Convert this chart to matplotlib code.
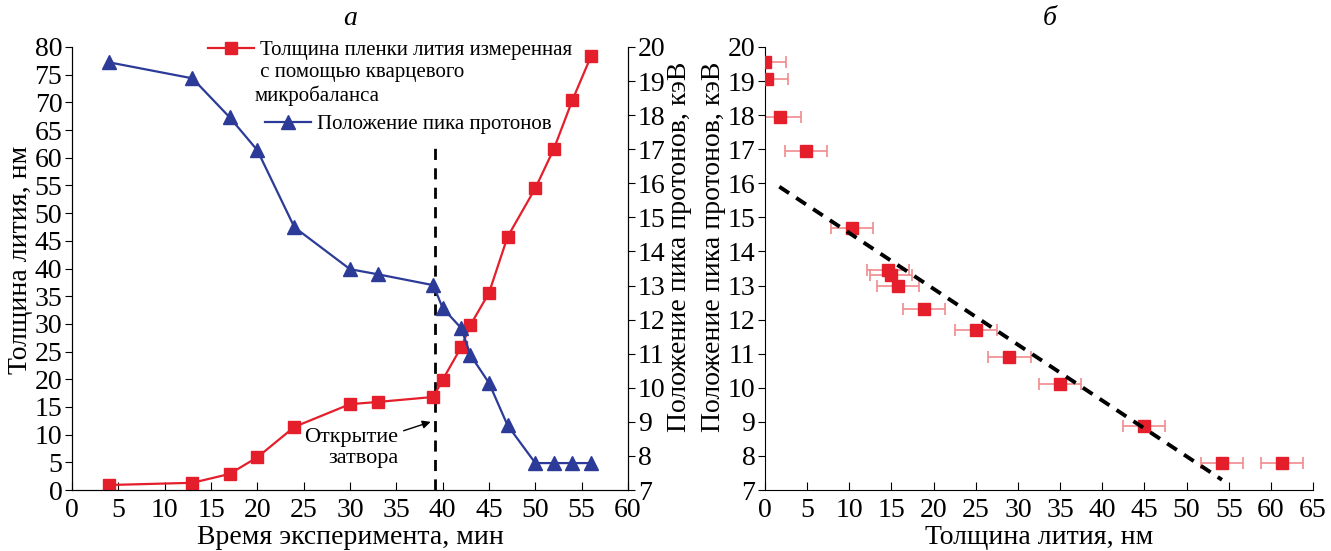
import numpy as np
import matplotlib
matplotlib.use("Agg")
import matplotlib.pyplot as plt

plt.rcParams['font.family'] = ['Liberation Serif', 'DejaVu Serif']

# --- данные, панель а ---
time_min = [4, 13, 17, 20, 24, 30, 33, 39, 40, 42, 43, 45, 47, 50, 52, 54, 56]
li_thickness = [0.9, 1.3, 2.9, 5.9, 11.4, 15.5, 15.9, 16.8, 19.9, 25.8, 29.8,
                35.6, 45.7, 54.5, 61.6, 70.4, 78.3]
peak_kev = [19.55, 19.08, 17.94, 16.97, 14.71, 13.48, 13.33, 13.01, 12.34,
            11.75, 10.96, 10.14, 8.9, 7.79, 7.79, 7.79, 7.79]
shutter_time = 39.2
shutter_top = 62.3

# --- данные, панель б ---
b_thick = [0, 0.2, 1.8, 4.9, 10.3, 14.6, 14.9, 15.8, 18.9, 25.0, 29.0, 35.0,
           45.0, 54.2, 61.3]
b_peak = [19.56, 19.06, 17.94, 16.95, 14.7, 13.45, 13.3, 13.0, 12.3, 11.7,
          10.9, 10.1, 8.88, 7.78, 7.78]
b_xerr = [2.5] * len(b_thick)
b_yerr = [0.1] * len(b_thick)
fit_x = [1.7, 54.2]
fit_y = [15.9, 7.3]

red = '#e41f2b'
blue = '#2c3b97'
pink = '#f08a8e'

fig = plt.figure(figsize=(13.31, 5.51), dpi=100)
ax1 = fig.add_axes([72 / 1331, 1 - 490 / 551, 556 / 1331, 443 / 551])
ax2 = ax1.twinx()
ax3 = fig.add_axes([765 / 1331, 1 - 490 / 551, 548 / 1331, 443 / 551])

tick_fs = 20

# панель а
l_red, = ax1.plot(time_min, li_thickness, color=red, lw=1.6, marker='s',
                  ms=8, zorder=3)
l_blue, = ax2.plot(time_min, peak_kev, color=blue, lw=1.6, marker='^',
                   ms=9.5, zorder=3)
ax1.plot([shutter_time, shutter_time], [0, shutter_top], color='black',
         lw=2, ls=(0, (4, 3)))
ax1.annotate('Открытие\nзатвора', xy=(38.7, 12.3), xytext=(35.2, 7.6),
             ha='right', va='center', multialignment='right', fontsize=16,
             arrowprops=dict(arrowstyle='-|>', color='black', lw=1,
                             shrinkA=2, shrinkB=0, mutation_scale=12))

ax1.set_xlim(0, 60)
ax1.set_ylim(0, 80)
ax2.set_ylim(7, 20)
ax1.set_xticks(np.arange(0, 61, 5))
ax1.set_yticks(np.arange(0, 81, 5))
ax2.set_yticks(np.arange(7, 21, 1))
ax1.set_xlabel('Время эксперимента, мин', fontsize=20, labelpad=1)
ax1.set_ylabel('Толщина лития, нм', fontsize=20, labelpad=1)
ax2.set_ylabel('Положение пика протонов, кэВ', fontsize=20, labelpad=1)
ax1.yaxis.label.set_y(0.52)
ax2.yaxis.label.set_y(0.55)
ax1.tick_params(axis='x', direction='in', length=6, labelsize=tick_fs, pad=6)
ax1.tick_params(axis='y', direction='out', length=5, labelsize=tick_fs, pad=2)
ax2.tick_params(axis='y', direction='out', length=5, labelsize=tick_fs, pad=2)
for a in (ax1, ax2):
    a.spines['top'].set_visible(False)
ax1.text(0.5, 1.065, 'а', transform=ax1.transAxes, ha='center', va='center',
         fontsize=20, style='italic')

leg1 = ax1.legend([l_red], ['Толщина пленки лития измеренная'],
                  loc='center left', bbox_to_anchor=(0.245, 0.993),
                  frameon=False, fontsize=15, borderpad=0, borderaxespad=0,
                  handlelength=2.2, handletextpad=0.3)
ax1.add_artist(leg1)
ax1.text(0.329, 0.915, ' с помощью кварцевого\nмикробаланса',
         transform=ax1.transAxes, ha='left', va='center', fontsize=15,
         linespacing=1.2)
ax1.legend([l_blue], ['Положение пика протонов'], loc='center left',
           bbox_to_anchor=(0.347, 0.826), frameon=False, fontsize=15,
           borderpad=0, borderaxespad=0, handlelength=2.2, handletextpad=0.3)

# панель б
ax3.errorbar(b_thick, b_peak, xerr=b_xerr, yerr=b_yerr, fmt='none',
             ecolor=pink, elinewidth=1.2, capsize=4, capthick=1.2, zorder=2)
ax3.plot(b_thick, b_peak, ls='none', marker='s', ms=8, color=red, zorder=3)
ax3.plot(fit_x, fit_y, color='black', lw=2.8, ls=(0, (3, 2.2)), zorder=4)
ax3.set_xlim(0, 65)
ax3.set_ylim(7, 20)
ax3.set_xticks(np.arange(0, 66, 5))
ax3.set_yticks(np.arange(7, 21, 1))
ax3.set_xlabel('Толщина лития, нм', fontsize=20, labelpad=1)
ax3.set_ylabel('Положение пика протонов, кэВ', fontsize=20, labelpad=1)
ax3.yaxis.label.set_y(0.55)
ax3.tick_params(axis='x', direction='in', length=6, labelsize=tick_fs, pad=6)
ax3.tick_params(axis='y', direction='out', length=5, labelsize=tick_fs, pad=2)
ax3.spines['top'].set_visible(False)
ax3.spines['right'].set_visible(False)
ax3.text(0.52, 1.065, 'б', transform=ax3.transAxes, ha='center', va='center',
         fontsize=20, style='italic')

fig.savefig('out.png', dpi=100)
